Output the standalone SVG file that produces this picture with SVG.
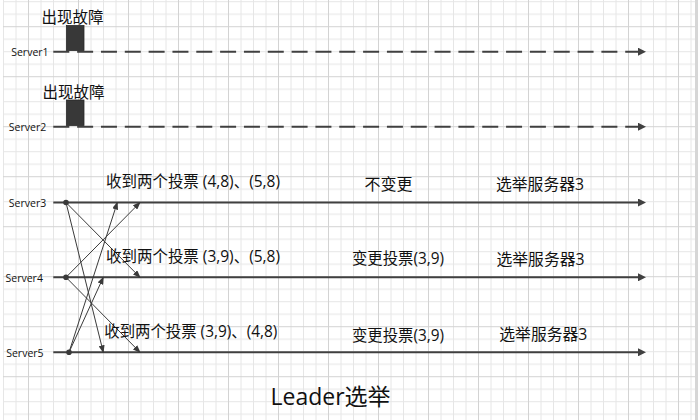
<svg xmlns="http://www.w3.org/2000/svg" width="698" height="420" viewBox="0 0 698 420">
<style>
.lbl{font-family:"Open Sans","Noto Sans CJK SC",sans-serif;font-size:10.5px;fill:#111}
.cn{font-family:"Open Sans","Noto Sans CJK SC",sans-serif;font-size:16px;fill:#111}
.title{font-family:"Open Sans","Noto Sans CJK SC",sans-serif;font-size:23px;fill:#111}
.tl{stroke:#404040;stroke-width:2;fill:none}
.dash{stroke-dasharray:16 7.83}
.msg{stroke:#3a3a3a;stroke-width:1;fill:none}
.box{fill:#383838;stroke:#2a2a2a;stroke-width:0.8}
.dot{fill:#3a3a3a}
</style>
<defs>
<pattern id="grid" x="3" y="1.2" width="50" height="50" patternUnits="userSpaceOnUse">
<path d="M0.5 0V50M13 0V50M38 0V50M0 0.5H50M0 13H50M0 38H50" stroke="#e6e6e6" stroke-width="1" fill="none"/>
<path d="M25.5 0V50M0 25.5H50" stroke="#d3d3d3" stroke-width="1" fill="none"/>
</pattern>
<marker id="big" markerUnits="userSpaceOnUse" markerWidth="8" markerHeight="8" refX="0" refY="4" orient="auto">
<path d="M0 0L8 4L0 8Z" fill="#404040"/>
</marker>
<marker id="small" markerUnits="userSpaceOnUse" markerWidth="8" markerHeight="6" refX="7" refY="3" orient="auto">
<path d="M0 0L8 3L0 6Z" fill="#3a3a3a"/>
</marker>
</defs>
<rect width="698" height="420" fill="#fff"/>
<rect x="3" y="0" width="692" height="420" fill="url(#grid)"/>
<rect x="695" y="0" width="3" height="420" fill="#d6d6d6"/>

<g id="server1">
<text class="lbl" x="11.2" y="56">Server1</text>
<line class="tl dash" x1="53.3" y1="51.7" x2="638" y2="51.7" marker-end="url(#big)"/>
<rect class="box" x="66.5" y="25.5" width="17.5" height="25"/>
<text class="cn" x="41.5" y="23" style="font-size:15.5px">出现故障</text>
</g>
<g id="server2">
<text class="lbl" x="8.8" y="130.5">Server2</text>
<line class="tl dash" x1="53.3" y1="126.7" x2="638" y2="126.7" marker-end="url(#big)"/>
<rect class="box" x="66.5" y="100" width="17.5" height="25.5"/>
<text class="cn" x="42.5" y="97.5" style="font-size:15.5px">出现故障</text>
</g>
<g id="server3">
<text class="lbl" x="8.8" y="206.5">Server3</text>
<line class="tl" x1="53.3" y1="202.5" x2="638" y2="202.5" marker-end="url(#big)"/>
<circle class="dot" cx="66" cy="202.5" r="2.8"/>
</g>
<g id="server4">
<text class="lbl" x="5.5" y="281.5">Server4</text>
<line class="tl" x1="53.3" y1="277.3" x2="638" y2="277.3" marker-end="url(#big)"/>
<circle class="dot" cx="66" cy="277.3" r="2.8"/>
</g>
<g id="server5">
<text class="lbl" x="6.2" y="356.5">Server5</text>
<line class="tl" x1="53.3" y1="352.3" x2="638" y2="352.3" marker-end="url(#big)"/>
<circle class="dot" cx="69" cy="352.3" r="2.8"/>
</g>

<g id="connectors">
<line class="msg" x1="66" y1="202.5" x2="103.3" y2="352.3" marker-end="url(#small)"/>
<line class="msg" x1="66" y1="202.5" x2="140" y2="277.3" marker-end="url(#small)"/>
<line class="msg" x1="66" y1="277.3" x2="140" y2="202.5" marker-end="url(#small)"/>
<line class="msg" x1="66" y1="277.3" x2="140" y2="352.3" marker-end="url(#small)"/>
<line class="msg" x1="69" y1="352.3" x2="117.3" y2="202.5" marker-end="url(#small)"/>
<line class="msg" x1="69" y1="352.3" x2="103.3" y2="277.3" marker-end="url(#small)"/>
</g>

<g id="labels-server3">
<text class="cn" x="106" y="187" textLength="174" lengthAdjust="spacingAndGlyphs">收到两个投票 (4,8)、(5,8)</text>
<text class="cn" x="364.5" y="189.5">不变更</text>
<text class="cn" x="496" y="189.5" textLength="88" lengthAdjust="spacingAndGlyphs">选举服务器3</text>
</g>
<g id="labels-server4">
<text class="cn" x="106" y="262" textLength="174" lengthAdjust="spacingAndGlyphs">收到两个投票 (3,9)、(5,8)</text>
<text class="cn" x="352" y="264" textLength="92" lengthAdjust="spacingAndGlyphs">变更投票(3,9)</text>
<text class="cn" x="496.5" y="265" textLength="88" lengthAdjust="spacingAndGlyphs">选举服务器3</text>
</g>
<g id="labels-server5">
<text class="cn" x="104.3" y="337" textLength="173" lengthAdjust="spacingAndGlyphs">收到两个投票 (3,9)、(4,8)</text>
<text class="cn" x="352" y="340.5" textLength="92" lengthAdjust="spacingAndGlyphs">变更投票(3,9)</text>
<text class="cn" x="499.3" y="340" textLength="88" lengthAdjust="spacingAndGlyphs">选举服务器3</text>
</g>
<g id="title">
<text class="title" x="270.5" y="405">Leader选举</text>
</g>
</svg>
